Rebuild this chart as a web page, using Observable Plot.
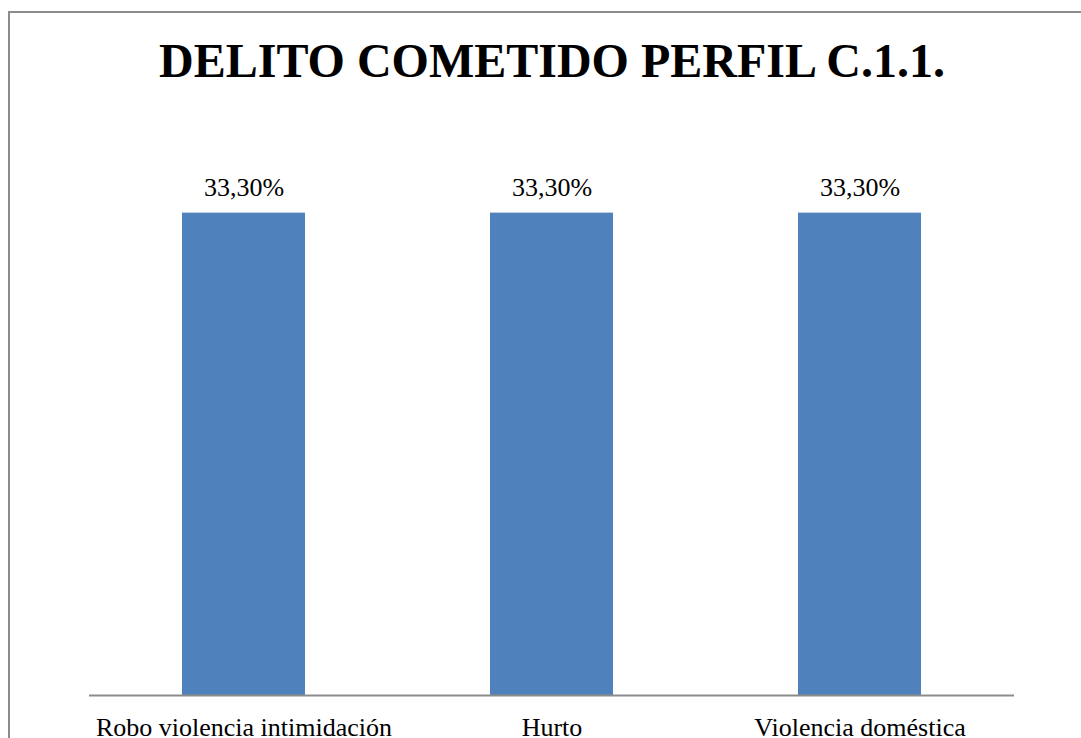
<!DOCTYPE html>
<html>
<head>
<meta charset="utf-8">
<script src="https://cdn.jsdelivr.net/npm/d3@7"></script>
<script src="https://cdn.jsdelivr.net/npm/@observablehq/plot@0.6"></script>
<style>
  html, body { margin: 0; padding: 0; background: #fff; overflow: hidden; }
  #wrap { position: relative; width: 1081px; height: 738px; overflow: hidden; background: #fff; }
  #frame { position: absolute; left: 8px; top: 11px; width: 1200px; height: 900px;
           border-left: 2px solid #8c8c8c; border-top: 2px solid #8c8c8c; box-sizing: border-box; }
  #title { position: absolute; top: 37px; left: 552px; transform: translateX(-50%);
           font-family: "Liberation Serif", "Times New Roman", serif; font-weight: bold;
           font-size: 48px; line-height: 48px; white-space: nowrap; color: #000; }
  #chart { position: absolute; left: 0; top: 0; }
</style>
</head>
<body>
<div id="wrap">
  <div id="frame"></div>
  <div id="chart"></div>
  <div id="title">DELITO COMETIDO PERFIL C.1.1.</div>
</div>
<script>
const categories = ["Robo violencia intimidación", "Hurto", "Violencia doméstica"];
const values = [33.3, 33.3, 33.3];

const data = categories.map((c, i) => ({cat: c, val: values[i]}));
const fmt = v => d3.format(".2f")(v).replace(".", ",") + "%";

const chart = Plot.plot({
  width: 1081,
  height: 738,
  marginLeft: 89,
  marginRight: 67,
  marginTop: 188,
  marginBottom: 43,
  style: {fontFamily: "'Liberation Serif', 'Times New Roman', serif", background: "transparent", color: "#000"},
  x: {domain: categories, paddingInner: 0.6, paddingOuter: 0.3, label: null},
  y: {domain: [0, 35], axis: null},
  marks: [
    Plot.barY(data, {x: "cat", y: "val", fill: "#4F81BD"}),
    Plot.ruleY([0], {stroke: "#8c8c8c", strokeWidth: 2}),
    Plot.text(data, {x: "cat", y: "val", text: d => fmt(d.val), lineAnchor: "bottom", dy: -17, fontSize: 26, fill: "#000"}),
    Plot.axisX({tickSize: 0, tickPadding: 22, fontSize: 26, label: null, fill: "#000"})
  ]
});
document.getElementById("chart").appendChild(chart);
</script>
</body>
</html>
